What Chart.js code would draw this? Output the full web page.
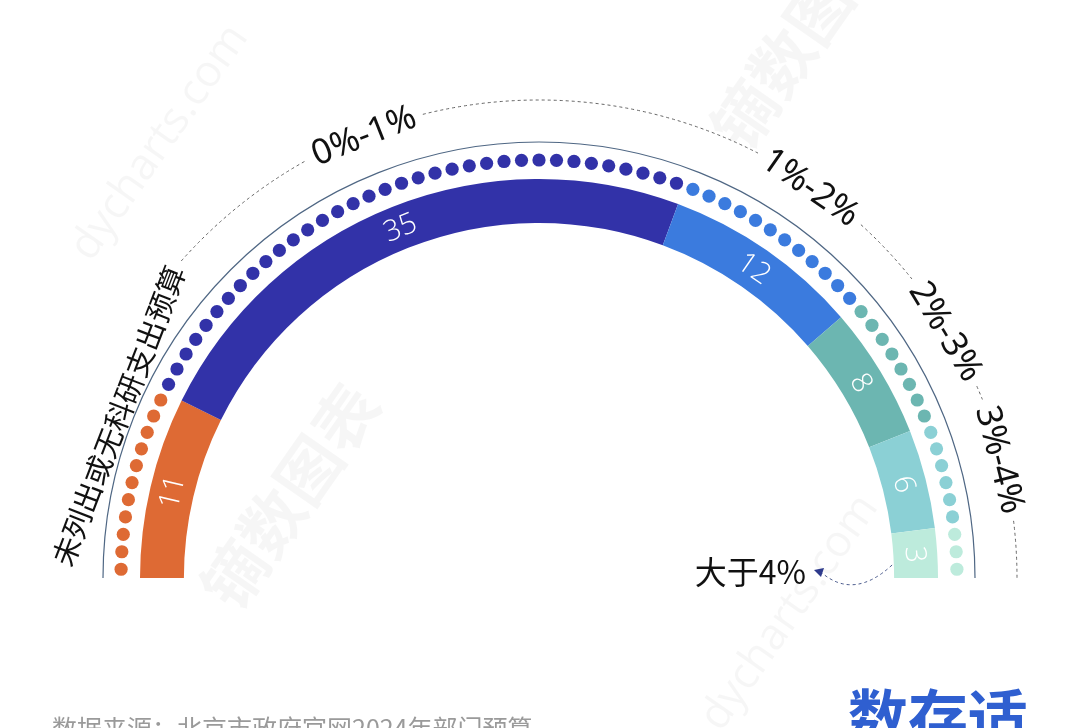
<!DOCTYPE html>
<html>
<head>
<meta charset="utf-8">
<script src="https://cdn.jsdelivr.net/npm/chart.js@4"></script>
<style>
  html, body { margin: 0; padding: 0; background: #fff; }
  #wrap { width: 1080px; height: 728px; position: relative; overflow: hidden; }
</style>
</head>
<body>
<div id="wrap"><canvas id="myChart" width="1080" height="728"></canvas></div>
<script>
// Values
var categories = ["未列出或无科研支出预算", "0%-1%", "1%-2%", "2%-3%", "3%-4%", "大于4%"];
var counts = [11, 35, 12, 8, 6, 3];
var sourceNote = "数据来源：北京市政府官网2024年部门预算";
var logoText = "数存适";

var colors = ["#DE6A34", "#3232A8", "#3B7BDE", "#6CB6B1", "#8BD0D5", "#BDEBDC"];
var cjkFont = "29px 'Noto Sans CJK SC', sans-serif";
var pctFont = "35px 'Noto Sans', 'Open Sans', sans-serif";

// Everything around the ring is drawn from the arc elements Chart.js gives back
var ringDecor = {
  id: "ringDecor",
  beforeDraw: function (chart) {
    var ctx = chart.ctx;
    ctx.save();
    ctx.fillStyle = "#fff";
    ctx.fillRect(0, 0, chart.width, chart.height);
    // faint watermarks
    ctx.fillStyle = "rgba(0,0,0,0.035)";
    ctx.font = "44px 'Open Sans', sans-serif";
    [[170, 150], [800, 620]].forEach(function (p) {
      ctx.save(); ctx.translate(p[0], p[1]); ctx.rotate(-55 * Math.PI / 180);
      ctx.textAlign = "center"; ctx.fillText("dycharts.com", 0, 0); ctx.restore();
    });
    ctx.font = "bold 64px 'Noto Sans CJK SC', sans-serif";
    [[310, 510], [820, 50]].forEach(function (p) {
      ctx.save(); ctx.translate(p[0], p[1]); ctx.rotate(-55 * Math.PI / 180);
      ctx.textAlign = "center"; ctx.fillText("镝数图表", 0, 0); ctx.restore();
    });
    ctx.restore();
  },
  afterDatasetsDraw: function (chart) {
    var ctx = chart.ctx;
    var arcs = chart.getDatasetMeta(0).data;
    var cx = arcs[0].x, cy = arcs[0].y;
    var outer = arcs[0].outerRadius, inner = arcs[0].innerRadius;
    var mid = (outer + inner) / 2;
    var endA = arcs[arcs.length - 1].endAngle;

    ctx.save();

    // one dot per unit, outside the ring
    var dotR = outer + 19;
    arcs.forEach(function (arc, i) {
      var n = counts[i];
      var step = (arc.endAngle - arc.startAngle) / n;
      ctx.fillStyle = colors[i];
      for (var k = 0; k < n; k++) {
        var a = arc.startAngle + (k + 0.5) * step;
        ctx.beginPath();
        ctx.arc(cx + dotR * Math.cos(a), cy + dotR * Math.sin(a), 6.6, 0, Math.PI * 2);
        ctx.fill();
      }
    });

    // thin solid rim
    ctx.strokeStyle = "#4F6784";
    ctx.lineWidth = 1.2;
    ctx.beginPath();
    ctx.arc(cx, cy, outer + 37, arcs[0].startAngle, endA);
    ctx.stroke();

    // values inside the band
    ctx.fillStyle = "#fff";
    ctx.font = "300 29px 'Open Sans', sans-serif";
    ctx.textAlign = "center";
    ctx.textBaseline = "middle";
    arcs.forEach(function (arc, i) {
      var a = (arc.startAngle + arc.endAngle) / 2;
      ctx.save();
      ctx.translate(cx + mid * Math.cos(a), cy + mid * Math.sin(a));
      ctx.rotate(a + Math.PI / 2);
      ctx.fillText(String(counts[i]), 0, 1);
      ctx.restore();
    });

    // category labels as chords of the dashed circle
    var rd = outer + 79;
    ctx.fillStyle = "#111";
    var spans = [];
    for (var i = 0; i < 5; i++) {
      ctx.font = i === 0 ? cjkFont : pctFont;
      var w = ctx.measureText(categories[i]).width;
      var half = Math.asin((w / 2) / rd);
      var a;
      if (i === 0) {
        a = arcs[0].startAngle + 0.028 + half;
      } else {
        a = (arcs[i].startAngle + arcs[i].endAngle) / 2;
      }
      var rc = Math.sqrt(rd * rd - (w / 2) * (w / 2));
      ctx.save();
      ctx.translate(cx + rc * Math.cos(a), cy + rc * Math.sin(a));
      ctx.rotate(a + Math.PI / 2);
      ctx.fillText(categories[i], 0, 0);
      ctx.restore();
      var pad = 8 / rd;
      spans.push([a - half - pad, a + half + pad]);
    }

    // dashed guide between labels
    ctx.strokeStyle = "#666";
    ctx.lineWidth = 1;
    ctx.setLineDash([3, 3]);
    for (var j = 0; j < spans.length; j++) {
      var from = spans[j][1];
      var to = j < spans.length - 1 ? spans[j + 1][0] : endA;
      if (to > from) {
        ctx.beginPath();
        ctx.arc(cx, cy, rd, from, to);
        ctx.stroke();
      }
    }

    // last category label with curved arrow
    ctx.textAlign = "right";
    ctx.font = "32px 'Noto Sans CJK SC', 'Noto Sans', sans-serif";
    ctx.fillText(categories[5], 806, 572);
    ctx.strokeStyle = "#4A5A8C";
    ctx.beginPath();
    ctx.moveTo(cx + inner - 2, cy - 13);
    ctx.quadraticCurveTo(cx + inner - 40, cy + 22, 822, cy - 5);
    ctx.stroke();
    ctx.setLineDash([]);
    ctx.fillStyle = "#2E3A8C";
    ctx.beginPath();
    ctx.moveTo(814, cy - 8);
    ctx.lineTo(824, cy - 10);
    ctx.lineTo(821, cy - 1);
    ctx.closePath();
    ctx.fill();

    // source note and logo, cut by the bottom edge
    ctx.textAlign = "left";
    ctx.textBaseline = "alphabetic";
    ctx.fillStyle = "#9A9A9A";
    ctx.font = "25px 'Noto Sans CJK SC', sans-serif";
    ctx.fillText(sourceNote, 52, 738);
    ctx.fillStyle = "#2F5FD0";
    ctx.font = "bold 60px 'Noto Sans CJK SC', sans-serif";
    ctx.fillText(logoText, 848, 740);

    ctx.restore();
  }
};

var ctx = document.getElementById("myChart").getContext("2d");
var chart = new Chart(ctx, {
  type: "doughnut",
  data: {
    labels: categories,
    datasets: [
      {
        data: counts,
        backgroundColor: colors,
        borderWidth: 0,
      },
    ],
  },
  options: {
    responsive: false,
    animation: false,
    rotation: -90,
    circumference: 180,
    radius: 399,
    cutout: "89%",
    layout: { padding: { top: 29, bottom: 0, left: 0, right: 2 } },
    plugins: {
      legend: { display: false },
      tooltip: { enabled: false },
    },
  },
  plugins: [ringDecor],
});
</script>
</body>
</html>
